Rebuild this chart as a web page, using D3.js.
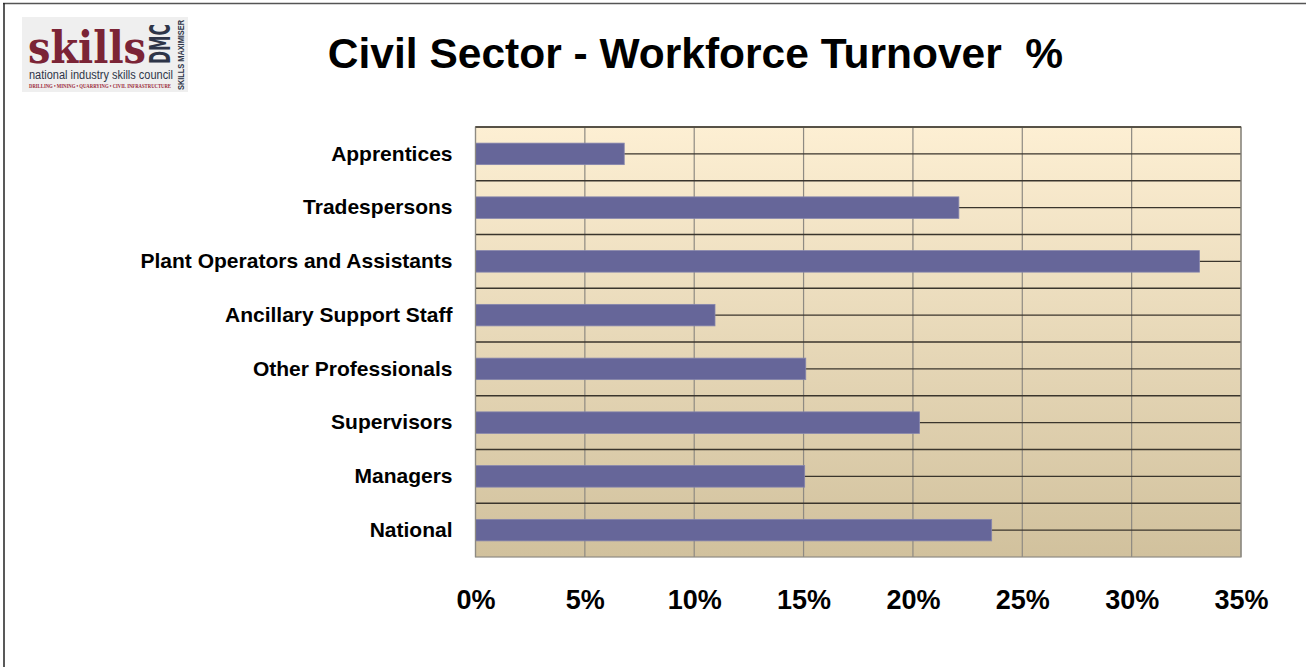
<!DOCTYPE html>
<html>
<head>
<meta charset="utf-8">
<script src="https://cdn.jsdelivr.net/npm/d3@7"></script>
<style>
  html, body { margin: 0; padding: 0; background: #ffffff; }
  svg { display: block; font-family: "Liberation Sans", Arial, sans-serif; }
</style>
</head>
<body>
<svg id="chart" width="1306" height="667"></svg>
<script>
// Turnover rate by occupation group, civil sector
const categories = [
  "Apprentices",
  "Tradespersons",
  "Plant Operators and Assistants",
  "Ancillary Support Staff",
  "Other Professionals",
  "Supervisors",
  "Managers",
  "National"
];
const turnover = [6.8, 22.1, 33.1, 10.95, 15.1, 20.3, 15.05, 23.6];
const tickValues = [0, 5, 10, 15, 20, 25, 30, 35];
const titleText = "Civil Sector - Workforce Turnover  %";

const svg = d3.select("#chart");

// slide frame (top and left rules)
svg.append("line").attr("x1", 3).attr("x2", 1306).attr("y1", 3.5).attr("y2", 3.5)
  .attr("stroke", "#555").attr("stroke-width", 1.5);
svg.append("line").attr("x1", 4).attr("x2", 4).attr("y1", 3).attr("y2", 667)
  .attr("stroke", "#222").attr("stroke-width", 1.5);

// ---- logo ----
const logo = svg.append("g").attr("transform", "translate(22,17)");
logo.append("rect").attr("width", 166).attr("height", 75).attr("fill", "#efefef");
logo.append("text").attr("x", 6).attr("y", 46)
  .attr("font-family", "'DejaVu Serif', 'Liberation Serif', serif")
  .attr("font-weight", "bold").attr("font-size", 44).attr("fill", "#7b2436")
  .attr("textLength", 118).attr("lengthAdjust", "spacingAndGlyphs")
  .text("skills");
logo.append("text")
  .attr("transform", "translate(148,47) rotate(-90)")
  .attr("font-family", "'DejaVu Sans Condensed', 'DejaVu Sans', sans-serif")
  .attr("font-weight", "bold").attr("font-size", 28).attr("fill", "#2e3548")
  .attr("textLength", 40).attr("lengthAdjust", "spacingAndGlyphs")
  .text("DMC");
logo.append("text")
  .attr("transform", "translate(162,73) rotate(-90)")
  .attr("font-weight", "bold").attr("font-size", 9).attr("fill", "#2e3548")
  .attr("textLength", 70).attr("lengthAdjust", "spacingAndGlyphs")
  .text("SKILLS MAXIMISER");
logo.append("text").attr("x", 7).attr("y", 62)
  .attr("font-family", "'Liberation Sans Narrow', 'Liberation Sans', sans-serif")
  .attr("font-size", 12.5).attr("fill", "#2e3548")
  .attr("textLength", 144).attr("lengthAdjust", "spacingAndGlyphs")
  .text("national industry skills council");
logo.append("text").attr("x", 7).attr("y", 71)
  .attr("font-family", "'Liberation Serif', serif")
  .attr("font-weight", "bold").attr("font-size", 5.5).attr("fill", "#9b2a3a")
  .attr("textLength", 142).attr("lengthAdjust", "spacingAndGlyphs")
  .text("DRILLING • MINING • QUARRYING • CIVIL INFRASTRUCTURE");

// ---- title ----
svg.append("text").attr("x", 695.5).attr("y", 68)
  .attr("text-anchor", "middle").attr("font-weight", "bold").attr("font-size", 42.5)
  .attr("fill", "#000").style("white-space", "pre")
  .text(titleText);

// ---- plot ----
const plot = { left: 475.5, right: 1241, top: 127, bottom: 557 };

const x = d3.scaleLinear().domain([0, 35]).range([plot.left, plot.right]);
const y = d3.scaleBand().domain(categories).range([plot.top, plot.bottom])
  .paddingInner(0).paddingOuter(0);
const barH = 21.5;

const defs = svg.append("defs");
const grad = defs.append("linearGradient").attr("id", "bg")
  .attr("x1", 0).attr("x2", 0).attr("y1", 0).attr("y2", 1);
grad.append("stop").attr("offset", "0%").attr("stop-color", "#fdefd3");
grad.append("stop").attr("offset", "100%").attr("stop-color", "#d1c19d");

svg.append("rect")
  .attr("x", plot.left).attr("y", plot.top)
  .attr("width", plot.right - plot.left).attr("height", plot.bottom - plot.top)
  .attr("fill", "url(#bg)");

// vertical gridlines
svg.append("g").selectAll("line").data(tickValues)
  .join("line")
  .attr("x1", d => x(d)).attr("x2", d => x(d))
  .attr("y1", plot.top).attr("y2", plot.bottom)
  .attr("stroke", "#8e8a82").attr("stroke-width", 1.2);

// horizontal rules at every band edge and centre
const hLines = [];
categories.forEach(c => {
  hLines.push(y(c));
  hLines.push(y(c) + y.bandwidth() / 2);
});
svg.append("g").selectAll("line").data(hLines)
  .join("line")
  .attr("x1", plot.left).attr("x2", plot.right)
  .attr("y1", d => d).attr("y2", d => d)
  .attr("stroke", "#3a352c").attr("stroke-width", 1.3);

// bars
svg.append("g").selectAll("rect").data(categories)
  .join("rect")
  .attr("x", x(0))
  .attr("y", d => y(d) + y.bandwidth() / 2 - barH / 2)
  .attr("width", (d, i) => x(turnover[i]) - x(0))
  .attr("height", barH)
  .attr("fill", "#666699")
  .attr("stroke", "#8585ad").attr("stroke-width", 0.8);

// plot border
svg.append("rect")
  .attr("x", plot.left).attr("y", plot.top)
  .attr("width", plot.right - plot.left).attr("height", plot.bottom - plot.top)
  .attr("fill", "none").attr("stroke", "#8e8a82").attr("stroke-width", 1.2);
svg.append("line").attr("x1", plot.left).attr("x2", plot.right)
  .attr("y1", plot.top).attr("y2", plot.top)
  .attr("stroke", "#4a4538").attr("stroke-width", 1.5);

// category labels
const yAxis = d3.axisLeft(y).tickSize(0).tickPadding(23);
const yg = svg.append("g").attr("transform", `translate(${plot.left},0)`).call(yAxis);
yg.select(".domain").remove();
yg.selectAll("text")
  .attr("font-family", "'Liberation Sans', Arial, sans-serif")
  .attr("font-size", 21).attr("font-weight", "bold").attr("fill", "#000");

// percentage ticks
const xAxis = d3.axisBottom(x).tickValues(tickValues).tickSize(0).tickPadding(33)
  .tickFormat(d => d + "%");
const xg = svg.append("g").attr("transform", `translate(0,${plot.bottom})`).call(xAxis);
xg.select(".domain").remove();
xg.selectAll("text")
  .attr("font-family", "'Liberation Sans', Arial, sans-serif")
  .attr("font-size", 27).attr("font-weight", "bold").attr("fill", "#000");
</script>
</body>
</html>
